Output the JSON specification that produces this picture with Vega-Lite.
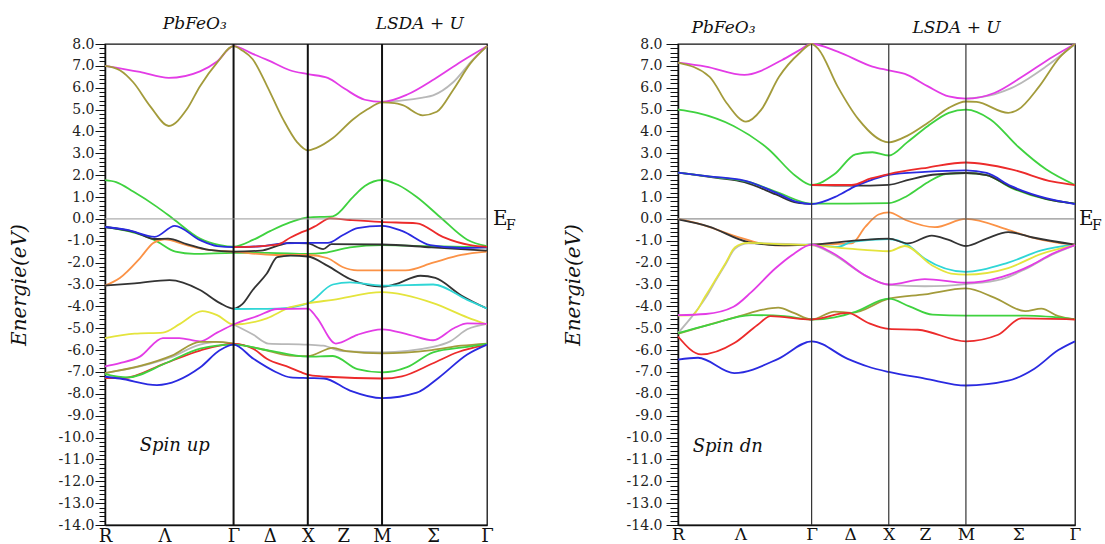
{
"$schema":"https://vega.github.io/schema/vega-lite/v6.json",
"padding":{"left":8,"top":14,"right":0,"bottom":0},
"bounds":"flush",
"spacing":191,
"config":{"view":{"stroke":"#111","strokeWidth":1.3},"axis":{"grid":false,"labelFont":"DejaVu Serif","titleFont":"DejaVu Serif","labelColor":"#222","domainColor":"#111","tickColor":"#111","domainWidth":1.5,"labelOverlap":false,"labelFlush":false}},
"datasets":{
"up":[
{"b":"g1","c":"gry","k":3.732,"e":5.35},{"b":"g1","c":"gry","k":4.01,"e":5.42},{"b":"g1","c":"gry","k":4.28,"e":5.55},{"b":"g1","c":"gry","k":4.42,"e":5.65},{"b":"g1","c":"gry","k":4.69,"e":6.25},{"b":"g1","c":"gry","k":4.96,"e":7.3},{"b":"g1","c":"gry","k":5.146,"e":7.9},
{"b":"g2","c":"gry","k":0,"e":-7.05},{"b":"g2","c":"gry","k":0.47,"e":-6.75},{"b":"g2","c":"gry","k":0.87,"e":-6.35},{"b":"g2","c":"gry","k":1.28,"e":-5.75},{"b":"g2","c":"gry","k":1.5,"e":-5.62},{"b":"g2","c":"gry","k":1.732,"e":-5.7},
{"b":"g3","c":"gry","k":1.732,"e":-4.83},{"b":"g3","c":"gry","k":2.0,"e":-5.3},{"b":"g3","c":"gry","k":2.2,"e":-5.7},{"b":"g3","c":"gry","k":2.732,"e":-5.75},{"b":"g3","c":"gry","k":2.94,"e":-5.8},{"b":"g3","c":"gry","k":3.2,"e":-6.05},{"b":"g3","c":"gry","k":3.732,"e":-6.1},{"b":"g3","c":"gry","k":4.42,"e":-5.85},{"b":"g3","c":"gry","k":4.65,"e":-5.6},{"b":"g3","c":"gry","k":4.88,"e":-5.05},{"b":"g3","c":"gry","k":5.146,"e":-4.8},
{"b":"m1","c":"mag","k":0,"e":7.0},{"b":"m1","c":"mag","k":0.47,"e":6.72},{"b":"m1","c":"mag","k":0.86,"e":6.45},{"b":"m1","c":"mag","k":1.28,"e":6.75},{"b":"m1","c":"mag","k":1.51,"e":7.2},{"b":"m1","c":"mag","k":1.732,"e":7.9},{"b":"m1","c":"mag","k":1.99,"e":7.55},{"b":"m1","c":"mag","k":2.2,"e":7.25},{"b":"m1","c":"mag","k":2.49,"e":6.8},{"b":"m1","c":"mag","k":2.732,"e":6.62},{"b":"m1","c":"mag","k":3.0,"e":6.45},{"b":"m1","c":"mag","k":3.23,"e":5.95},{"b":"m1","c":"mag","k":3.5,"e":5.45},{"b":"m1","c":"mag","k":3.732,"e":5.35},{"b":"m1","c":"mag","k":4.08,"e":5.7},{"b":"m1","c":"mag","k":4.44,"e":6.4},{"b":"m1","c":"mag","k":4.8,"e":7.2},{"b":"m1","c":"mag","k":5.146,"e":7.9},
{"b":"o1","c":"oli","k":0,"e":7.0},{"b":"o1","c":"oli","k":0.2,"e":6.8},{"b":"o1","c":"oli","k":0.38,"e":6.25},{"b":"o1","c":"oli","k":0.61,"e":5.15},{"b":"o1","c":"oli","k":0.86,"e":4.25},{"b":"o1","c":"oli","k":1.1,"e":5.0},{"b":"o1","c":"oli","k":1.28,"e":6.07},{"b":"o1","c":"oli","k":1.51,"e":7.15},{"b":"o1","c":"oli","k":1.732,"e":7.9},{"b":"o1","c":"oli","k":1.85,"e":7.7},{"b":"o1","c":"oli","k":1.99,"e":7.3},{"b":"o1","c":"oli","k":2.18,"e":6.1},{"b":"o1","c":"oli","k":2.4,"e":4.55},{"b":"o1","c":"oli","k":2.59,"e":3.5},{"b":"o1","c":"oli","k":2.732,"e":3.13},{"b":"o1","c":"oli","k":2.85,"e":3.25},{"b":"o1","c":"oli","k":3.07,"e":3.7},{"b":"o1","c":"oli","k":3.34,"e":4.55},{"b":"o1","c":"oli","k":3.53,"e":5.0},{"b":"o1","c":"oli","k":3.732,"e":5.33},{"b":"o1","c":"oli","k":3.9,"e":5.3},{"b":"o1","c":"oli","k":4.01,"e":5.2},{"b":"o1","c":"oli","k":4.28,"e":4.74},{"b":"o1","c":"oli","k":4.47,"e":4.9},{"b":"o1","c":"oli","k":4.69,"e":5.9},{"b":"o1","c":"oli","k":4.92,"e":7.1},{"b":"o1","c":"oli","k":5.146,"e":7.9},
{"b":"n1","c":"grn","k":0,"e":1.77},{"b":"n1","c":"grn","k":0.15,"e":1.68},{"b":"n1","c":"grn","k":0.38,"e":1.25},{"b":"n1","c":"grn","k":0.7,"e":0.55},{"b":"n1","c":"grn","k":0.92,"e":0.0},{"b":"n1","c":"grn","k":1.28,"e":-0.9},{"b":"n1","c":"grn","k":1.55,"e":-1.2},{"b":"n1","c":"grn","k":1.732,"e":-1.27},{"b":"n1","c":"grn","k":2.0,"e":-0.95},{"b":"n1","c":"grn","k":2.23,"e":-0.55},{"b":"n1","c":"grn","k":2.5,"e":-0.15},{"b":"n1","c":"grn","k":2.732,"e":0.07},{"b":"n1","c":"grn","k":3.07,"e":0.12},{"b":"n1","c":"grn","k":3.34,"e":1.0},{"b":"n1","c":"grn","k":3.5,"e":1.5},{"b":"n1","c":"grn","k":3.732,"e":1.78},{"b":"n1","c":"grn","k":3.95,"e":1.55},{"b":"n1","c":"grn","k":4.2,"e":1.0},{"b":"n1","c":"grn","k":4.51,"e":0.1},{"b":"n1","c":"grn","k":4.88,"e":-0.95},{"b":"n1","c":"grn","k":5.146,"e":-1.25},
{"b":"n2","c":"grn","k":0,"e":-0.37},{"b":"n2","c":"grn","k":0.3,"e":-0.55},{"b":"n2","c":"grn","k":0.67,"e":-0.97},{"b":"n2","c":"grn","k":0.95,"e":-1.5},{"b":"n2","c":"grn","k":1.2,"e":-1.6},{"b":"n2","c":"grn","k":1.732,"e":-1.55},{"b":"n2","c":"grn","k":2.2,"e":-1.55},{"b":"n2","c":"grn","k":2.732,"e":-1.6},{"b":"n2","c":"grn","k":2.95,"e":-1.55},{"b":"n2","c":"grn","k":3.3,"e":-1.3},{"b":"n2","c":"grn","k":3.732,"e":-1.2},{"b":"n2","c":"grn","k":4.4,"e":-1.25},{"b":"n2","c":"grn","k":5.146,"e":-1.3},
{"b":"a1","c":"org","k":0,"e":-3.05},{"b":"a1","c":"org","k":0.2,"e":-2.7},{"b":"a1","c":"org","k":0.47,"e":-1.8},{"b":"a1","c":"org","k":0.65,"e":-1.1},{"b":"a1","c":"org","k":0.8,"e":-0.93},{"b":"a1","c":"org","k":1.1,"e":-1.2},{"b":"a1","c":"org","k":1.4,"e":-1.42},{"b":"a1","c":"org","k":1.732,"e":-1.5},{"b":"a1","c":"org","k":2.3,"e":-1.65},{"b":"a1","c":"org","k":2.732,"e":-1.65},{"b":"a1","c":"org","k":3.0,"e":-1.8},{"b":"a1","c":"org","k":3.2,"e":-2.2},{"b":"a1","c":"org","k":3.4,"e":-2.35},{"b":"a1","c":"org","k":3.732,"e":-2.35},{"b":"a1","c":"org","k":4.05,"e":-2.35},{"b":"a1","c":"org","k":4.42,"e":-2.0},{"b":"a1","c":"org","k":4.8,"e":-1.65},{"b":"a1","c":"org","k":5.146,"e":-1.5},
{"b":"k1","c":"blk","k":0,"e":-0.37},{"b":"k1","c":"blk","k":0.4,"e":-0.6},{"b":"k1","c":"blk","k":0.67,"e":-0.92},{"b":"k1","c":"blk","k":0.85,"e":-0.9},{"b":"k1","c":"blk","k":1.1,"e":-1.15},{"b":"k1","c":"blk","k":1.4,"e":-1.42},{"b":"k1","c":"blk","k":1.732,"e":-1.5},{"b":"k1","c":"blk","k":2.1,"e":-1.45},{"b":"k1","c":"blk","k":2.35,"e":-1.2},{"b":"k1","c":"blk","k":2.49,"e":-1.1},{"b":"k1","c":"blk","k":2.732,"e":-1.12},{"b":"k1","c":"blk","k":2.94,"e":-1.38},{"b":"k1","c":"blk","k":3.05,"e":-1.15},{"b":"k1","c":"blk","k":3.732,"e":-1.17},{"b":"k1","c":"blk","k":4.4,"e":-1.3},{"b":"k1","c":"blk","k":5.146,"e":-1.45},
{"b":"u1","c":"blu","k":0,"e":-0.37},{"b":"u1","c":"blu","k":0.3,"e":-0.5},{"b":"u1","c":"blu","k":0.67,"e":-0.82},{"b":"u1","c":"blu","k":0.94,"e":-0.32},{"b":"u1","c":"blu","k":1.28,"e":-0.97},{"b":"u1","c":"blu","k":1.51,"e":-1.24},{"b":"u1","c":"blu","k":1.732,"e":-1.29},{"b":"u1","c":"blu","k":2.1,"e":-1.25},{"b":"u1","c":"blu","k":2.4,"e":-1.12},{"b":"u1","c":"blu","k":2.732,"e":-1.1},{"b":"u1","c":"blu","k":3.0,"e":-1.1},{"b":"u1","c":"blu","k":3.2,"e":-0.75},{"b":"u1","c":"blu","k":3.4,"e":-0.42},{"b":"u1","c":"blu","k":3.732,"e":-0.32},{"b":"u1","c":"blu","k":4.0,"e":-0.55},{"b":"u1","c":"blu","k":4.38,"e":-1.2},{"b":"u1","c":"blu","k":4.82,"e":-1.33},{"b":"u1","c":"blu","k":5.146,"e":-1.3},
{"b":"r1","c":"red","k":1.732,"e":-1.29},{"b":"r1","c":"red","k":2.0,"e":-1.27},{"b":"r1","c":"red","k":2.32,"e":-1.18},{"b":"r1","c":"red","k":2.5,"e":-0.85},{"b":"r1","c":"red","k":2.63,"e":-0.64},{"b":"r1","c":"red","k":2.732,"e":-0.5},{"b":"r1","c":"red","k":2.85,"e":-0.3},{"b":"r1","c":"red","k":3.03,"e":0.02},{"b":"r1","c":"red","k":3.3,"e":-0.05},{"b":"r1","c":"red","k":3.7,"e":-0.14},{"b":"r1","c":"red","k":4.2,"e":-0.2},{"b":"r1","c":"red","k":4.55,"e":-0.82},{"b":"r1","c":"red","k":4.92,"e":-1.2},{"b":"r1","c":"red","k":5.146,"e":-1.28},
{"b":"k2","c":"blk","k":0,"e":-3.05},{"b":"k2","c":"blk","k":0.4,"e":-2.95},{"b":"k2","c":"blk","k":0.87,"e":-2.8},{"b":"k2","c":"blk","k":1.28,"e":-3.25},{"b":"k2","c":"blk","k":1.55,"e":-3.85},{"b":"k2","c":"blk","k":1.732,"e":-4.1},{"b":"k2","c":"blk","k":1.85,"e":-3.9},{"b":"k2","c":"blk","k":1.99,"e":-3.25},{"b":"k2","c":"blk","k":2.18,"e":-2.5},{"b":"k2","c":"blk","k":2.32,"e":-1.75},{"b":"k2","c":"blk","k":2.5,"e":-1.68},{"b":"k2","c":"blk","k":2.732,"e":-1.72},{"b":"k2","c":"blk","k":3.0,"e":-2.15},{"b":"k2","c":"blk","k":3.3,"e":-2.75},{"b":"k2","c":"blk","k":3.732,"e":-3.1},{"b":"k2","c":"blk","k":3.9,"e":-3.0},{"b":"k2","c":"blk","k":4.25,"e":-2.6},{"b":"k2","c":"blk","k":4.45,"e":-2.7},{"b":"k2","c":"blk","k":4.8,"e":-3.5},{"b":"k2","c":"blk","k":5.146,"e":-4.1},
{"b":"c1","c":"cyn","k":1.732,"e":-4.12},{"b":"c1","c":"cyn","k":2.32,"e":-4.1},{"b":"c1","c":"cyn","k":2.732,"e":-3.86},{"b":"c1","c":"cyn","k":3.07,"e":-3.0},{"b":"c1","c":"cyn","k":3.3,"e":-2.9},{"b":"c1","c":"cyn","k":3.732,"e":-3.05},{"b":"c1","c":"cyn","k":4.42,"e":-3.0},{"b":"c1","c":"cyn","k":4.88,"e":-3.7},{"b":"c1","c":"cyn","k":5.146,"e":-4.1},
{"b":"y1","c":"yel","k":0,"e":-5.45},{"b":"y1","c":"yel","k":0.4,"e":-5.25},{"b":"y1","c":"yel","k":0.78,"e":-5.2},{"b":"y1","c":"yel","k":1.01,"e":-4.8},{"b":"y1","c":"yel","k":1.31,"e":-4.22},{"b":"y1","c":"yel","k":1.51,"e":-4.4},{"b":"y1","c":"yel","k":1.732,"e":-4.83},{"b":"y1","c":"yel","k":2.18,"e":-4.55},{"b":"y1","c":"yel","k":2.49,"e":-4.05},{"b":"y1","c":"yel","k":2.732,"e":-3.86},{"b":"y1","c":"yel","k":3.07,"e":-3.7},{"b":"y1","c":"yel","k":3.732,"e":-3.35},{"b":"y1","c":"yel","k":4.42,"e":-3.85},{"b":"y1","c":"yel","k":4.88,"e":-4.5},{"b":"y1","c":"yel","k":5.146,"e":-4.83},
{"b":"m2","c":"mag","k":0,"e":-6.75},{"b":"m2","c":"mag","k":0.2,"e":-6.6},{"b":"m2","c":"mag","k":0.47,"e":-6.3},{"b":"m2","c":"mag","k":0.78,"e":-5.45},{"b":"m2","c":"mag","k":1.0,"e":-5.45},{"b":"m2","c":"mag","k":1.28,"e":-5.6},{"b":"m2","c":"mag","k":1.51,"e":-5.2},{"b":"m2","c":"mag","k":1.732,"e":-4.83},{"b":"m2","c":"mag","k":2.05,"e":-4.45},{"b":"m2","c":"mag","k":2.32,"e":-4.12},{"b":"m2","c":"mag","k":2.732,"e":-4.1},{"b":"m2","c":"mag","k":2.85,"e":-4.5},{"b":"m2","c":"mag","k":3.11,"e":-5.7},{"b":"m2","c":"mag","k":3.4,"e":-5.3},{"b":"m2","c":"mag","k":3.732,"e":-5.05},{"b":"m2","c":"mag","k":4.1,"e":-5.3},{"b":"m2","c":"mag","k":4.42,"e":-5.55},{"b":"m2","c":"mag","k":4.7,"e":-5.0},{"b":"m2","c":"mag","k":4.88,"e":-4.78},{"b":"m2","c":"mag","k":5.146,"e":-4.8},
{"b":"o2","c":"oli","k":0,"e":-7.05},{"b":"o2","c":"oli","k":0.5,"e":-6.7},{"b":"o2","c":"oli","k":0.9,"e":-6.25},{"b":"o2","c":"oli","k":1.28,"e":-5.62},{"b":"o2","c":"oli","k":1.5,"e":-5.62},{"b":"o2","c":"oli","k":1.732,"e":-5.7},{"b":"o2","c":"oli","k":2.1,"e":-5.95},{"b":"o2","c":"oli","k":2.49,"e":-6.25},{"b":"o2","c":"oli","k":2.732,"e":-6.28},{"b":"o2","c":"oli","k":3.07,"e":-5.9},{"b":"o2","c":"oli","k":3.25,"e":-6.05},{"b":"o2","c":"oli","k":3.732,"e":-6.15},{"b":"o2","c":"oli","k":4.4,"e":-6.0},{"b":"o2","c":"oli","k":4.8,"e":-5.8},{"b":"o2","c":"oli","k":5.146,"e":-5.7},
{"b":"r2","c":"red","k":0,"e":-7.28},{"b":"r2","c":"red","k":0.25,"e":-7.28},{"b":"r2","c":"red","k":0.8,"e":-6.62},{"b":"r2","c":"red","k":1.28,"e":-6.02},{"b":"r2","c":"red","k":1.732,"e":-5.72},{"b":"r2","c":"red","k":2.0,"e":-5.95},{"b":"r2","c":"red","k":2.18,"e":-6.4},{"b":"r2","c":"red","k":2.49,"e":-6.8},{"b":"r2","c":"red","k":2.63,"e":-7.0},{"b":"r2","c":"red","k":2.76,"e":-7.15},{"b":"r2","c":"red","k":3.0,"e":-7.22},{"b":"r2","c":"red","k":3.732,"e":-7.3},{"b":"r2","c":"red","k":4.0,"e":-7.2},{"b":"r2","c":"red","k":4.42,"e":-6.6},{"b":"r2","c":"red","k":4.75,"e":-6.1},{"b":"r2","c":"red","k":5.146,"e":-5.75},
{"b":"n3","c":"grn","k":0,"e":-7.1},{"b":"n3","c":"grn","k":0.3,"e":-7.25},{"b":"n3","c":"grn","k":0.83,"e":-6.58},{"b":"n3","c":"grn","k":1.28,"e":-5.93},{"b":"n3","c":"grn","k":1.732,"e":-5.75},{"b":"n3","c":"grn","k":2.18,"e":-6.0},{"b":"n3","c":"grn","k":2.732,"e":-6.3},{"b":"n3","c":"grn","k":3.07,"e":-6.27},{"b":"n3","c":"grn","k":3.4,"e":-6.87},{"b":"n3","c":"grn","k":3.732,"e":-7.02},{"b":"n3","c":"grn","k":4.07,"e":-6.78},{"b":"n3","c":"grn","k":4.42,"e":-6.1},{"b":"n3","c":"grn","k":4.88,"e":-5.85},{"b":"n3","c":"grn","k":5.146,"e":-5.72},
{"b":"u2","c":"blu","k":0,"e":-7.22},{"b":"u2","c":"blu","k":0.2,"e":-7.3},{"b":"u2","c":"blu","k":0.7,"e":-7.6},{"b":"u2","c":"blu","k":1.28,"e":-6.8},{"b":"u2","c":"blu","k":1.55,"e":-6.0},{"b":"u2","c":"blu","k":1.732,"e":-5.75},{"b":"u2","c":"blu","k":2.0,"e":-6.4},{"b":"u2","c":"blu","k":2.3,"e":-7.0},{"b":"u2","c":"blu","k":2.5,"e":-7.25},{"b":"u2","c":"blu","k":2.732,"e":-7.28},{"b":"u2","c":"blu","k":2.95,"e":-7.3},{"b":"u2","c":"blu","k":3.3,"e":-7.85},{"b":"u2","c":"blu","k":3.732,"e":-8.2},{"b":"u2","c":"blu","k":4.2,"e":-7.95},{"b":"u2","c":"blu","k":4.5,"e":-7.25},{"b":"u2","c":"blu","k":4.88,"e":-6.2},{"b":"u2","c":"blu","k":5.146,"e":-5.75}
],
"dn":[
{"b":"g1","c":"gry","k":3.732,"e":5.5},{"b":"g1","c":"gry","k":4.1,"e":5.7},{"b":"g1","c":"gry","k":4.32,"e":5.98},{"b":"g1","c":"gry","k":4.77,"e":6.97},{"b":"g1","c":"gry","k":5.146,"e":8.0},
{"b":"g2","c":"gry","k":0,"e":-5.22},{"b":"g2","c":"gry","k":0.18,"e":-4.47},{"b":"g2","c":"gry","k":0.36,"e":-3.6},{"b":"g2","c":"gry","k":0.5,"e":-2.75},{"b":"g2","c":"gry","k":0.62,"e":-2.05},{"b":"g2","c":"gry","k":0.74,"e":-1.35},{"b":"g2","c":"gry","k":0.91,"e":-1.12},{"b":"g2","c":"gry","k":1.732,"e":-1.2},{"b":"g2","c":"gry","k":2.0,"e":-1.6},{"b":"g2","c":"gry","k":2.46,"e":-2.65},{"b":"g2","c":"gry","k":2.732,"e":-3.02},{"b":"g2","c":"gry","k":3.2,"e":-3.08},{"b":"g2","c":"gry","k":3.732,"e":-2.98},{"b":"g2","c":"gry","k":4.2,"e":-2.75},{"b":"g2","c":"gry","k":4.5,"e":-2.3},{"b":"g2","c":"gry","k":4.81,"e":-1.7},{"b":"g2","c":"gry","k":5.146,"e":-1.2},
{"b":"m1","c":"mag","k":0,"e":7.15},{"b":"m1","c":"mag","k":0.36,"e":6.97},{"b":"m1","c":"mag","k":0.86,"e":6.59},{"b":"m1","c":"mag","k":1.35,"e":7.27},{"b":"m1","c":"mag","k":1.58,"e":7.73},{"b":"m1","c":"mag","k":1.732,"e":8.0},{"b":"m1","c":"mag","k":2.07,"e":7.65},{"b":"m1","c":"mag","k":2.52,"e":6.97},{"b":"m1","c":"mag","k":2.732,"e":6.79},{"b":"m1","c":"mag","k":2.97,"e":6.59},{"b":"m1","c":"mag","k":3.24,"e":6.06},{"b":"m1","c":"mag","k":3.51,"e":5.6},{"b":"m1","c":"mag","k":3.732,"e":5.5},{"b":"m1","c":"mag","k":4.1,"e":5.76},{"b":"m1","c":"mag","k":4.46,"e":6.5},{"b":"m1","c":"mag","k":4.86,"e":7.42},{"b":"m1","c":"mag","k":5.146,"e":8.0},
{"b":"o1","c":"oli","k":0,"e":7.15},{"b":"o1","c":"oli","k":0.41,"e":6.5},{"b":"o1","c":"oli","k":0.63,"e":5.3},{"b":"o1","c":"oli","k":0.88,"e":4.45},{"b":"o1","c":"oli","k":1.08,"e":5.0},{"b":"o1","c":"oli","k":1.31,"e":6.5},{"b":"o1","c":"oli","k":1.58,"e":7.6},{"b":"o1","c":"oli","k":1.732,"e":8.0},{"b":"o1","c":"oli","k":1.82,"e":7.77},{"b":"o1","c":"oli","k":2.07,"e":6.05},{"b":"o1","c":"oli","k":2.34,"e":4.55},{"b":"o1","c":"oli","k":2.732,"e":3.5},{"b":"o1","c":"oli","k":2.97,"e":3.8},{"b":"o1","c":"oli","k":3.24,"e":4.4},{"b":"o1","c":"oli","k":3.51,"e":5.08},{"b":"o1","c":"oli","k":3.732,"e":5.37},{"b":"o1","c":"oli","k":3.87,"e":5.35},{"b":"o1","c":"oli","k":4.28,"e":4.85},{"b":"o1","c":"oli","k":4.41,"e":5.0},{"b":"o1","c":"oli","k":4.68,"e":6.05},{"b":"o1","c":"oli","k":4.95,"e":7.4},{"b":"o1","c":"oli","k":5.146,"e":8.0},
{"b":"n1","c":"grn","k":0,"e":5.0},{"b":"n1","c":"grn","k":0.25,"e":4.85},{"b":"n1","c":"grn","k":0.72,"e":4.25},{"b":"n1","c":"grn","k":1.17,"e":3.2},{"b":"n1","c":"grn","k":1.53,"e":1.95},{"b":"n1","c":"grn","k":1.732,"e":1.55},{"b":"n1","c":"grn","k":2.03,"e":2.05},{"b":"n1","c":"grn","k":2.3,"e":2.95},{"b":"n1","c":"grn","k":2.52,"e":3.05},{"b":"n1","c":"grn","k":2.732,"e":2.9},{"b":"n1","c":"grn","k":2.97,"e":3.5},{"b":"n1","c":"grn","k":3.24,"e":4.25},{"b":"n1","c":"grn","k":3.51,"e":4.85},{"b":"n1","c":"grn","k":3.732,"e":5.0},{"b":"n1","c":"grn","k":4.05,"e":4.55},{"b":"n1","c":"grn","k":4.41,"e":3.3},{"b":"n1","c":"grn","k":4.77,"e":2.27},{"b":"n1","c":"grn","k":5.146,"e":1.55},
{"b":"k4","c":"blk","k":0,"e":2.12},{"b":"k4","c":"blk","k":0.5,"e":1.88},{"b":"k4","c":"blk","k":0.86,"e":1.68},{"b":"k4","c":"blk","k":1.27,"e":1.12},{"b":"k4","c":"blk","k":1.54,"e":0.74},{"b":"k4","c":"blk","k":1.732,"e":0.68},
{"b":"n2","c":"grn","k":0,"e":2.12},{"b":"n2","c":"grn","k":0.5,"e":1.9},{"b":"n2","c":"grn","k":0.9,"e":1.7},{"b":"n2","c":"grn","k":1.3,"e":1.2},{"b":"n2","c":"grn","k":1.732,"e":0.7},{"b":"n2","c":"grn","k":2.2,"e":0.7},{"b":"n2","c":"grn","k":2.732,"e":0.72},{"b":"n2","c":"grn","k":2.97,"e":1.05},{"b":"n2","c":"grn","k":3.24,"e":1.68},{"b":"n2","c":"grn","k":3.47,"e":2.05},{"b":"n2","c":"grn","k":3.732,"e":2.1},{"b":"n2","c":"grn","k":4.0,"e":2.0},{"b":"n2","c":"grn","k":4.32,"e":1.42},{"b":"n2","c":"grn","k":4.77,"e":0.9},{"b":"n2","c":"grn","k":5.146,"e":0.7},
{"b":"k3","c":"blk","k":1.732,"e":1.55},{"b":"k3","c":"blk","k":2.25,"e":1.52},{"b":"k3","c":"blk","k":2.732,"e":1.56},{"b":"k3","c":"blk","k":3.0,"e":1.8},{"b":"k3","c":"blk","k":3.3,"e":2.02},{"b":"k3","c":"blk","k":3.732,"e":2.1},{"b":"k3","c":"blk","k":4.0,"e":2.0},{"b":"k3","c":"blk","k":4.32,"e":1.45},{"b":"k3","c":"blk","k":4.77,"e":0.92},{"b":"k3","c":"blk","k":5.146,"e":0.7},
{"b":"u1","c":"blu","k":0,"e":2.12},{"b":"u1","c":"blu","k":0.4,"e":1.95},{"b":"u1","c":"blu","k":0.86,"e":1.75},{"b":"u1","c":"blu","k":1.27,"e":1.2},{"b":"u1","c":"blu","k":1.54,"e":0.78},{"b":"u1","c":"blu","k":1.732,"e":0.68},{"b":"u1","c":"blu","k":2.07,"e":1.06},{"b":"u1","c":"blu","k":2.3,"e":1.5},{"b":"u1","c":"blu","k":2.52,"e":1.8},{"b":"u1","c":"blu","k":2.732,"e":2.02},{"b":"u1","c":"blu","k":3.2,"e":2.15},{"b":"u1","c":"blu","k":3.732,"e":2.22},{"b":"u1","c":"blu","k":4.0,"e":2.1},{"b":"u1","c":"blu","k":4.32,"e":1.5},{"b":"u1","c":"blu","k":4.77,"e":0.95},{"b":"u1","c":"blu","k":5.146,"e":0.68},
{"b":"r1","c":"red","k":1.732,"e":1.55},{"b":"r1","c":"red","k":2.25,"e":1.55},{"b":"r1","c":"red","k":2.5,"e":1.85},{"b":"r1","c":"red","k":2.732,"e":2.05},{"b":"r1","c":"red","k":3.24,"e":2.35},{"b":"r1","c":"red","k":3.732,"e":2.58},{"b":"r1","c":"red","k":4.32,"e":2.27},{"b":"r1","c":"red","k":4.86,"e":1.7},{"b":"r1","c":"red","k":5.146,"e":1.55},
{"b":"a1","c":"org","k":0,"e":0.0},{"b":"a1","c":"org","k":0.3,"e":-0.25},{"b":"a1","c":"org","k":0.72,"e":-0.76},{"b":"a1","c":"org","k":1.26,"e":-1.21},{"b":"a1","c":"org","k":1.732,"e":-1.18},{"b":"a1","c":"org","k":2.25,"e":-1.12},{"b":"a1","c":"org","k":2.43,"e":-0.35},{"b":"a1","c":"org","k":2.6,"e":0.2},{"b":"a1","c":"org","k":2.732,"e":0.3},{"b":"a1","c":"org","k":2.95,"e":-0.05},{"b":"a1","c":"org","k":3.33,"e":-0.38},{"b":"a1","c":"org","k":3.732,"e":0.0},{"b":"a1","c":"org","k":4.28,"e":-0.5},{"b":"a1","c":"org","k":4.58,"e":-0.85},{"b":"a1","c":"org","k":4.93,"e":-1.1},{"b":"a1","c":"org","k":5.146,"e":-1.18},
{"b":"c1","c":"cyn","k":1.0,"e":-1.1},{"b":"c1","c":"cyn","k":1.38,"e":-1.2},{"b":"c1","c":"cyn","k":1.732,"e":-1.18},{"b":"c1","c":"cyn","k":2.07,"e":-1.28},{"b":"c1","c":"cyn","k":2.25,"e":-1.05},{"b":"c1","c":"cyn","k":2.732,"e":-0.92},{"b":"c1","c":"cyn","k":2.98,"e":-1.2},{"b":"c1","c":"cyn","k":3.2,"e":-1.82},{"b":"c1","c":"cyn","k":3.732,"e":-2.42},{"b":"c1","c":"cyn","k":4.28,"e":-2.0},{"b":"c1","c":"cyn","k":4.71,"e":-1.44},{"b":"c1","c":"cyn","k":5.146,"e":-1.18},
{"b":"k1","c":"blk","k":0,"e":-0.02},{"b":"k1","c":"blk","k":0.4,"e":-0.35},{"b":"k1","c":"blk","k":0.91,"e":-1.06},{"b":"k1","c":"blk","k":1.38,"e":-1.21},{"b":"k1","c":"blk","k":1.732,"e":-1.18},{"b":"k1","c":"blk","k":2.33,"e":-0.98},{"b":"k1","c":"blk","k":2.732,"e":-0.9},{"b":"k1","c":"blk","k":2.98,"e":-1.12},{"b":"k1","c":"blk","k":3.29,"e":-0.76},{"b":"k1","c":"blk","k":3.5,"e":-0.95},{"b":"k1","c":"blk","k":3.732,"e":-1.24},{"b":"k1","c":"blk","k":4.0,"e":-0.9},{"b":"k1","c":"blk","k":4.28,"e":-0.6},{"b":"k1","c":"blk","k":4.6,"e":-0.85},{"b":"k1","c":"blk","k":5.146,"e":-1.18},
{"b":"y1","c":"yel","k":0,"e":-4.42},{"b":"y1","c":"yel","k":0.18,"e":-4.4},{"b":"y1","c":"yel","k":0.36,"e":-3.5},{"b":"y1","c":"yel","k":0.5,"e":-2.7},{"b":"y1","c":"yel","k":0.62,"e":-2.0},{"b":"y1","c":"yel","k":0.74,"e":-1.3},{"b":"y1","c":"yel","k":0.9,"e":-1.1},{"b":"y1","c":"yel","k":1.3,"e":-1.15},{"b":"y1","c":"yel","k":1.732,"e":-1.2},{"b":"y1","c":"yel","k":2.21,"e":-1.36},{"b":"y1","c":"yel","k":2.732,"e":-1.48},{"b":"y1","c":"yel","k":2.94,"e":-1.24},{"b":"y1","c":"yel","k":3.29,"e":-2.12},{"b":"y1","c":"yel","k":3.54,"e":-2.5},{"b":"y1","c":"yel","k":3.732,"e":-2.55},{"b":"y1","c":"yel","k":4.28,"e":-2.25},{"b":"y1","c":"yel","k":4.71,"e":-1.6},{"b":"y1","c":"yel","k":5.146,"e":-1.2},
{"b":"m2","c":"mag","k":0,"e":-4.4},{"b":"m2","c":"mag","k":0.36,"e":-4.35},{"b":"m2","c":"mag","k":0.72,"e":-4.02},{"b":"m2","c":"mag","k":0.95,"e":-3.35},{"b":"m2","c":"mag","k":1.26,"e":-2.27},{"b":"m2","c":"mag","k":1.5,"e":-1.6},{"b":"m2","c":"mag","k":1.732,"e":-1.18},{"b":"m2","c":"mag","k":2.0,"e":-1.55},{"b":"m2","c":"mag","k":2.46,"e":-2.65},{"b":"m2","c":"mag","k":2.732,"e":-3.0},{"b":"m2","c":"mag","k":3.2,"e":-2.75},{"b":"m2","c":"mag","k":3.732,"e":-2.92},{"b":"m2","c":"mag","k":4.2,"e":-2.65},{"b":"m2","c":"mag","k":4.59,"e":-2.1},{"b":"m2","c":"mag","k":4.85,"e":-1.6},{"b":"m2","c":"mag","k":5.146,"e":-1.2},
{"b":"o2","c":"oli","k":0,"e":-5.25},{"b":"o2","c":"oli","k":0.39,"e":-4.85},{"b":"o2","c":"oli","k":0.82,"e":-4.42},{"b":"o2","c":"oli","k":1.1,"e":-4.15},{"b":"o2","c":"oli","k":1.3,"e":-4.06},{"b":"o2","c":"oli","k":1.5,"e":-4.3},{"b":"o2","c":"oli","k":1.732,"e":-4.6},{"b":"o2","c":"oli","k":2.03,"e":-4.24},{"b":"o2","c":"oli","k":2.25,"e":-4.3},{"b":"o2","c":"oli","k":2.732,"e":-3.65},{"b":"o2","c":"oli","k":3.2,"e":-3.45},{"b":"o2","c":"oli","k":3.732,"e":-3.18},{"b":"o2","c":"oli","k":4.1,"e":-3.6},{"b":"o2","c":"oli","k":4.5,"e":-4.22},{"b":"o2","c":"oli","k":4.71,"e":-4.1},{"b":"o2","c":"oli","k":4.93,"e":-4.45},{"b":"o2","c":"oli","k":5.146,"e":-4.6},
{"b":"n3","c":"grn","k":0,"e":-5.23},{"b":"n3","c":"grn","k":0.4,"e":-4.85},{"b":"n3","c":"grn","k":0.95,"e":-4.4},{"b":"n3","c":"grn","k":1.38,"e":-4.45},{"b":"n3","c":"grn","k":1.732,"e":-4.6},{"b":"n3","c":"grn","k":2.03,"e":-4.5},{"b":"n3","c":"grn","k":2.3,"e":-4.25},{"b":"n3","c":"grn","k":2.732,"e":-3.65},{"b":"n3","c":"grn","k":3.0,"e":-4.0},{"b":"n3","c":"grn","k":3.3,"e":-4.38},{"b":"n3","c":"grn","k":3.732,"e":-4.42},{"b":"n3","c":"grn","k":4.5,"e":-4.42},{"b":"n3","c":"grn","k":5.146,"e":-4.58},
{"b":"r2","c":"red","k":0,"e":-5.38},{"b":"r2","c":"red","k":0.3,"e":-6.2},{"b":"r2","c":"red","k":0.73,"e":-5.68},{"b":"r2","c":"red","k":1.03,"e":-4.85},{"b":"r2","c":"red","k":1.2,"e":-4.45},{"b":"r2","c":"red","k":1.732,"e":-4.6},{"b":"r2","c":"red","k":2.2,"e":-4.3},{"b":"r2","c":"red","k":2.46,"e":-4.75},{"b":"r2","c":"red","k":2.732,"e":-5.03},{"b":"r2","c":"red","k":3.11,"e":-5.07},{"b":"r2","c":"red","k":3.732,"e":-5.6},{"b":"r2","c":"red","k":4.15,"e":-5.3},{"b":"r2","c":"red","k":4.45,"e":-4.55},{"b":"r2","c":"red","k":5.146,"e":-4.6},
{"b":"u2","c":"blu","k":0,"e":-6.44},{"b":"u2","c":"blu","k":0.26,"e":-6.35},{"b":"u2","c":"blu","k":0.73,"e":-7.05},{"b":"u2","c":"blu","k":1.3,"e":-6.4},{"b":"u2","c":"blu","k":1.732,"e":-5.6},{"b":"u2","c":"blu","k":2.2,"e":-6.4},{"b":"u2","c":"blu","k":2.46,"e":-6.75},{"b":"u2","c":"blu","k":2.732,"e":-7.0},{"b":"u2","c":"blu","k":3.2,"e":-7.3},{"b":"u2","c":"blu","k":3.732,"e":-7.62},{"b":"u2","c":"blu","k":4.28,"e":-7.4},{"b":"u2","c":"blu","k":4.62,"e":-6.85},{"b":"u2","c":"blu","k":4.93,"e":-6.0},{"b":"u2","c":"blu","k":5.146,"e":-5.6}
]},
"hconcat":[
{"width":382,"height":481,
"layer":[
{"data":{"name":"up"},"mark":{"type":"line","interpolate":"monotone","strokeWidth":1.8},
"encoding":{
"x":{"field":"k","type":"quantitative","scale":{"domain":[0,5.146],"nice":false,"zero":false},
"axis":{"title":null,"values":[0,0.8,1.732,2.22,2.732,3.21,3.732,4.42,5.146],"labelExpr":"datum.value<0.4?'R':datum.value<1.2?'Λ':datum.value<2.0?'Γ':datum.value<2.5?'Δ':datum.value<3.0?'X':datum.value<3.5?'Z':datum.value<4.0?'M':datum.value<5.0?'Σ':'Γ'","ticks":false,"labelFontSize":18,"labelPadding":2,"labelColor":"#111"}},
"y":{"field":"e","type":"quantitative","scale":{"domain":[-14,8],"nice":false},
"axis":{"title":"Energie(eV)","titleFontStyle":"italic","titleFontWeight":"normal","titleFontSize":20,"titlePadding":29,"titleColor":"#111","tickCount":110,"labelExpr":"abs(datum.value-round(datum.value))<0.01 ? (datum.value<-0.001?'-':'') + format(abs(datum.value),'.1f') : ''","tickSize":{"condition":{"test":"abs(datum.value-round(datum.value))<0.01","value":10},"value":6},"labelPadding":1,"labelFontSize":14}},
"color":{"field":"c","type":"nominal","scale":{"domain":["mag","oli","gry","grn","blu","red","blk","org","cyn","yel"],"range":["#e33ce6","#a39b3b","#b8b8b8","#3fd23f","#2a2ae0","#ec2b2b","#333333","#fb9246","#2fd6d6","#e4e43c"]},"legend":null},
"detail":{"field":"b"}}},
{"data":{"values":[{"k":1.732},{"k":2.732},{"k":3.732}]},"mark":{"type":"rule","color":"#111","strokeWidth":2},"encoding":{"x":{"field":"k","type":"quantitative"}}},
{"data":{"values":[{}]},"mark":{"type":"rule","color":"#999","strokeWidth":1},"encoding":{"y":{"datum":0}}},
{"data":{"values":[{}]},"mark":{"type":"text","font":"DejaVu Serif","fontStyle":"italic","fontSize":17,"color":"#111"},"encoding":{"x":{"datum":1.21},"y":{"datum":8.9},"text":{"value":"PbFeO₃"}}},
{"data":{"values":[{}]},"mark":{"type":"text","font":"DejaVu Serif","fontStyle":"italic","fontSize":17,"color":"#111"},"encoding":{"x":{"datum":4.24},"y":{"datum":8.9},"text":{"value":"LSDA + U"}}},
{"data":{"values":[{}]},"mark":{"type":"text","font":"DejaVu Serif","fontStyle":"italic","fontSize":18,"color":"#111"},"encoding":{"x":{"datum":0.94},"y":{"datum":-10.4},"text":{"value":"Spin up"}}},
{"data":{"values":[{}]},"mark":{"type":"text","align":"left","baseline":"middle","dx":6,"font":"DejaVu Serif","fontSize":20,"color":"#111"},"encoding":{"x":{"datum":5.146},"y":{"datum":0},"text":{"value":"E"}}},
{"data":{"values":[{}]},"mark":{"type":"text","align":"left","baseline":"middle","dx":19,"dy":7,"font":"DejaVu Serif","fontSize":14,"color":"#111"},"encoding":{"x":{"datum":5.146},"y":{"datum":0},"text":{"value":"F"}}}
]},
{"width":397,"height":481,
"layer":[
{"data":{"name":"dn"},"mark":{"type":"line","interpolate":"monotone","strokeWidth":1.8},
"encoding":{
"x":{"field":"k","type":"quantitative","scale":{"domain":[0,5.146],"nice":false,"zero":false},
"axis":{"title":null,"values":[0,0.81,1.732,2.23,2.732,3.2,3.732,4.41,5.146],"labelExpr":"datum.value<0.4?'R':datum.value<1.2?'Λ':datum.value<2.0?'Γ':datum.value<2.5?'Δ':datum.value<3.0?'X':datum.value<3.5?'Z':datum.value<4.0?'M':datum.value<5.0?'Σ':'Γ'","ticks":false,"labelFontSize":17,"labelPadding":1,"labelColor":"#111"}},
"y":{"field":"e","type":"quantitative","scale":{"domain":[-14,8],"nice":false},
"axis":{"title":"Energie(eV)","titleFontStyle":"italic","titleFontWeight":"normal","titleFontSize":20,"titlePadding":43,"titleColor":"#111","tickCount":110,"labelExpr":"abs(datum.value-round(datum.value))<0.01 ? (datum.value<-0.001?'-':'') + format(abs(datum.value),'.1f') : ''","tickSize":{"condition":{"test":"abs(datum.value-round(datum.value))<0.01","value":12},"value":8},"labelPadding":4,"labelFontSize":14}},
"color":{"field":"c","type":"nominal","scale":{"domain":["mag","oli","gry","grn","blu","red","blk","org","cyn","yel"],"range":["#e33ce6","#a39b3b","#b8b8b8","#3fd23f","#2a2ae0","#ec2b2b","#333333","#fb9246","#2fd6d6","#e4e43c"]},"legend":null},
"detail":{"field":"b"}}},
{"data":{"values":[{"k":1.732},{"k":2.732},{"k":3.732}]},"mark":{"type":"rule","color":"#333","strokeWidth":1.2},"encoding":{"x":{"field":"k","type":"quantitative"}}},
{"data":{"values":[{}]},"mark":{"type":"rule","color":"#777","strokeWidth":1},"encoding":{"y":{"datum":0}}},
{"data":{"values":[{}]},"mark":{"type":"text","font":"DejaVu Serif","fontStyle":"italic","fontSize":17,"color":"#111"},"encoding":{"x":{"datum":0.59},"y":{"datum":8.75},"text":{"value":"PbFeO₃"}}},
{"data":{"values":[{}]},"mark":{"type":"text","font":"DejaVu Serif","fontStyle":"italic","fontSize":17,"color":"#111"},"encoding":{"x":{"datum":3.61},"y":{"datum":8.75},"text":{"value":"LSDA + U"}}},
{"data":{"values":[{}]},"mark":{"type":"text","font":"DejaVu Serif","fontStyle":"italic","fontSize":18,"color":"#111"},"encoding":{"x":{"datum":0.645},"y":{"datum":-10.45},"text":{"value":"Spin dn"}}},
{"data":{"values":[{}]},"mark":{"type":"text","align":"left","baseline":"middle","dx":4,"font":"DejaVu Serif","fontSize":20,"color":"#111"},"encoding":{"x":{"datum":5.146},"y":{"datum":0},"text":{"value":"E"}}},
{"data":{"values":[{}]},"mark":{"type":"text","align":"left","baseline":"middle","dx":17,"dy":7,"font":"DejaVu Serif","fontSize":14,"color":"#111"},"encoding":{"x":{"datum":5.146},"y":{"datum":0},"text":{"value":"F"}}}
]}
]
}
